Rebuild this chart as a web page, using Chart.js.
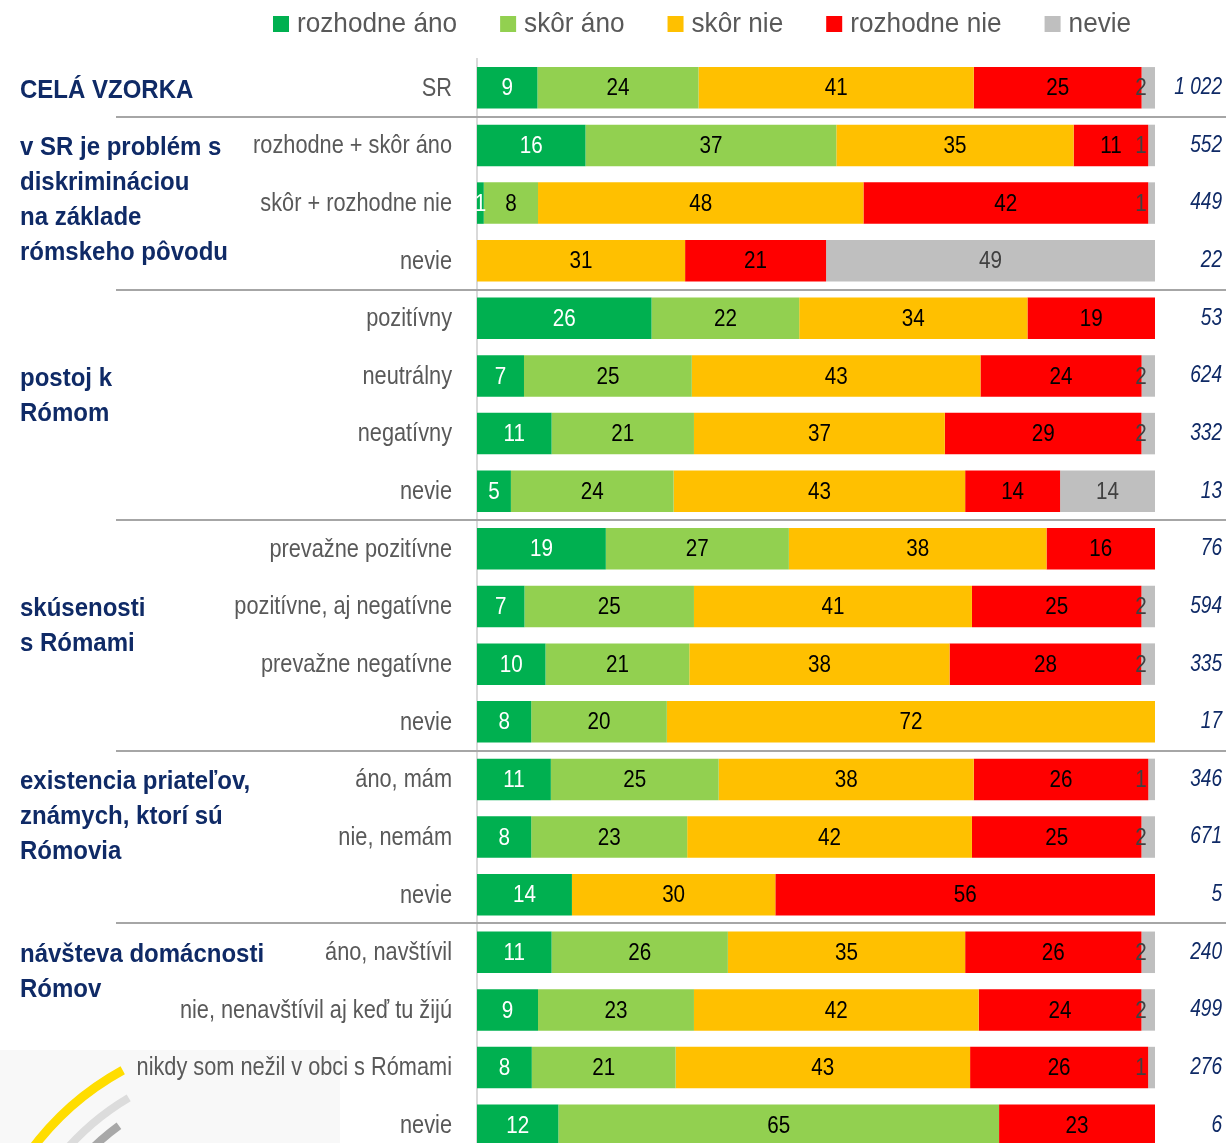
<!DOCTYPE html>
<html lang="sk">
<head>
<meta charset="UTF-8">
<title>Problém s diskrimináciou Rómov</title>
<script src="https://cdn.jsdelivr.net/npm/chart.js@4"></script>
<style>
  html, body { margin: 0; padding: 0; background: #fff; overflow: hidden; }
  canvas { display: block; }
</style>
</head>
<body>
<canvas id="chart" width="1229" height="1160"></canvas>
<script>
// Data
const rowLabels = [
  'SR',
  'rozhodne + skôr áno', 'skôr + rozhodne nie', 'nevie',
  'pozitívny', 'neutrálny', 'negatívny', 'nevie',
  'prevažne pozitívne', 'pozitívne, aj negatívne', 'prevažne negatívne', 'nevie',
  'áno, mám', 'nie, nemám', 'nevie',
  'áno, navštívil', 'nie, nenavštívil aj keď tu žijú', 'nikdy som nežil v obci s Rómami', 'nevie'
];
const seriesNames = ['rozhodne áno', 'skôr áno', 'skôr nie', 'rozhodne nie', 'nevie'];
const seriesColors = ['#00B050', '#92D050', '#FFC000', '#FF0000', '#BFBFBF'];
const labelColors = ['#ffffff', '#000000', '#000000', '#000000', '#404040'];

const rozhodneAno = [9, 16, 1, 0, 26, 7, 11, 5, 19, 7, 10, 8, 11, 8, 14, 11, 9, 8, 12];
const skorAno     = [24, 37, 8, 0, 22, 25, 21, 24, 27, 25, 21, 20, 25, 23, 0, 26, 23, 21, 65];
const skorNie     = [41, 35, 48, 31, 34, 43, 37, 43, 38, 41, 38, 72, 38, 42, 30, 35, 42, 43, 0];
const rozhodneNie = [25, 11, 42, 21, 19, 24, 29, 14, 16, 25, 28, 0, 26, 25, 56, 26, 24, 26, 23];
const nevie       = [2, 1, 1, 49, 0, 2, 2, 14, 0, 2, 2, 0, 1, 2, 0, 2, 2, 1, 0];
const sampleSizes = ['1 022', '552', '449', '22', '53', '624', '332', '13', '76', '594', '335', '17',
  '346', '671', '5', '240', '499', '276', '6'];

const groupTitles = [
  ['CELÁ VZORKA'],
  ['v SR je problém s', 'diskrimináciou', 'na základe', 'rómskeho pôvodu'],
  ['postoj k', 'Rómom'],
  ['skúsenosti', 's Rómami'],
  ['existencia priateľov,', 'známych, ktorí sú', 'Rómovia'],
  ['návšteva domácnosti', 'Rómov']
];
const groupFirstRow = [0, 1, 5, 9, 12, 15];
const groupBreaks = [1, 4, 8, 12, 15];

const series = [rozhodneAno, skorAno, skorNie, rozhodneNie, nevie];
const rowTotals = rowLabels.map((_, j) => series.reduce((s, arr) => s + arr[j], 0));

const FONT = "'Liberation Sans', Arial, sans-serif";
const NAVY = '#0F2A66';

// text squeezed horizontally to mimic the narrow font of the original
function drawText(ctx, text, x, y, align, sx) {
  ctx.save();
  ctx.translate(x, y);
  ctx.scale(sx, 1);
  ctx.textAlign = align;
  ctx.fillText(text, 0, 0);
  ctx.restore();
}

// Custom drawing: legend, labels, group titles, n, separators
const extrasPlugin = {
  id: 'extras',
  beforeDraw(chart) {
    const ctx = chart.ctx;
    ctx.save();
    // faint watermark logo bottom-left
    ctx.fillStyle = '#f8f8f8';
    ctx.fillRect(0, 1050, 340, 120);
    ctx.lineWidth = 9;
    ctx.strokeStyle = '#FFDD00';
    ctx.beginPath();
    ctx.arc(260, 1320, 285, Math.PI * 1.2, Math.PI * 1.34);
    ctx.stroke();
    ctx.lineWidth = 8;
    ctx.strokeStyle = '#dcdcdc';
    ctx.beginPath();
    ctx.arc(260, 1320, 258, Math.PI * 1.22, Math.PI * 1.33);
    ctx.stroke();
    ctx.strokeStyle = '#a8a8a8';
    ctx.beginPath();
    ctx.arc(260, 1320, 240, Math.PI * 1.24, Math.PI * 1.30);
    ctx.stroke();
    ctx.restore();
  },
  afterDraw(chart) {
    const ctx = chart.ctx;
    const area = chart.chartArea;
    const y = chart.scales.y;
    ctx.save();
    ctx.textBaseline = 'middle';

    // legend
    ctx.font = '28px ' + FONT;
    let lx = 273;
    seriesNames.forEach((name, i) => {
      ctx.fillStyle = seriesColors[i];
      ctx.fillRect(lx, 16, 16, 16);
      ctx.fillStyle = '#595959';
      drawText(ctx, name, lx + 24, 24, 'left', 0.935);
      lx += 24 + ctx.measureText(name).width * 0.935 + 43;
    });

    // separators
    ctx.strokeStyle = '#a6a6a6';
    ctx.lineWidth = 2;
    groupBreaks.forEach(r => {
      const yy = Math.round((y.getPixelForValue(r - 1) + y.getPixelForValue(r)) / 2);
      ctx.beginPath();
      ctx.moveTo(116, yy);
      ctx.lineTo(1226, yy);
      ctx.stroke();
    });

    // row labels
    ctx.font = '25px ' + FONT;
    ctx.fillStyle = '#595959';
    rowLabels.forEach((t, j) => drawText(ctx, t, 452, y.getPixelForValue(j) + 1, 'right', 0.87));

    // group titles
    ctx.font = 'bold 25px ' + FONT;
    ctx.fillStyle = NAVY;
    groupTitles.forEach((lines, g) => {
      const y0 = y.getPixelForValue(groupFirstRow[g]) + 3;
      lines.forEach((t, k) => drawText(ctx, t, 20, y0 + k * 35, 'left', 0.96));
    });

    // sample sizes
    ctx.font = 'italic 23px ' + FONT;
    sampleSizes.forEach((n, j) => drawText(ctx, n, 1222, y.getPixelForValue(j), 'right', 0.83));

    // value labels
    ctx.font = '24px ' + FONT;
    series.forEach((arr, i) => {
      const meta = chart.getDatasetMeta(i);
      ctx.fillStyle = labelColors[i];
      meta.data.forEach((el, j) => {
        if (!arr[j]) return;
        let cx = (el.x + el.base) / 2;
        if (cx > area.right - 14) cx = area.right - 14;
        drawText(ctx, String(arr[j]), cx, el.y + 1, 'center', 0.86);
      });
    });
    ctx.restore();
  }
};

new Chart(document.getElementById('chart'), {
  type: 'bar',
  data: {
    labels: rowLabels,
    datasets: series.map((arr, i) => ({
      label: seriesNames[i],
      data: arr.map((v, j) => v / rowTotals[j] * 100),
      backgroundColor: seriesColors[i],
      borderWidth: 0,
      barPercentage: 0.72,
      categoryPercentage: 1
    }))
  },
  options: {
    indexAxis: 'y',
    responsive: false,
    animation: false,
    layout: { padding: { top: 59, right: 74, bottom: 6, left: 0 } },
    plugins: {
      legend: { display: false },
      tooltip: { enabled: false },
      title: { display: false }
    },
    scales: {
      x: { stacked: true, min: 0, max: 100, display: false },
      y: {
        stacked: true,
        grid: { display: false, drawTicks: false },
        border: { display: true, color: '#d9d9d9', width: 2 },
        ticks: { display: false },
        afterFit(scale) { scale.width = 477; }
      }
    }
  },
  plugins: [extrasPlugin]
});
</script>
</body>
</html>
